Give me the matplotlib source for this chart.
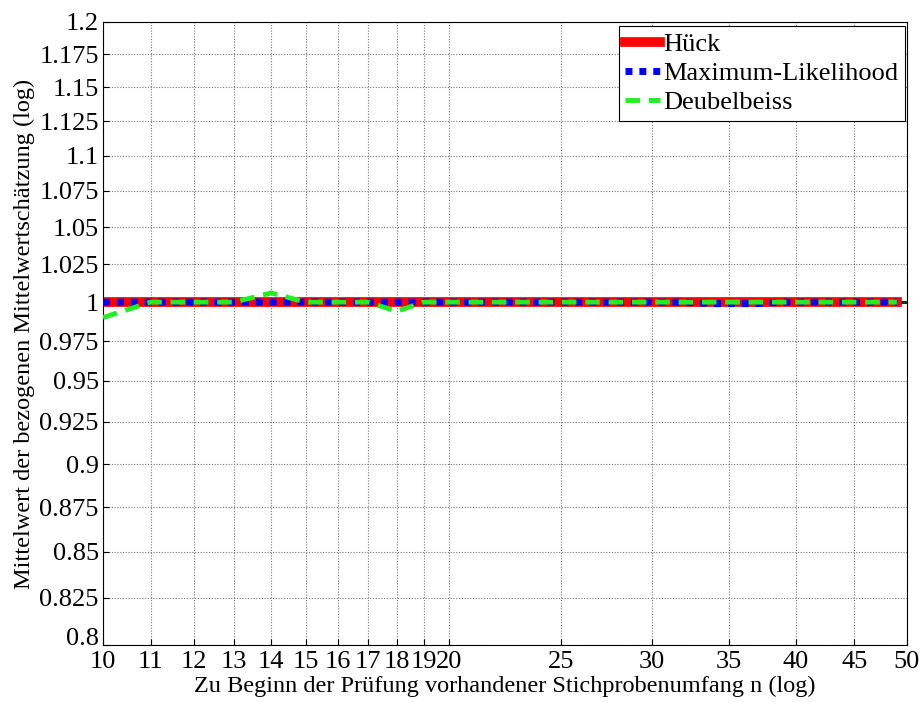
import matplotlib
matplotlib.use('Agg')
import matplotlib.pyplot as plt
from matplotlib.ticker import FixedLocator, FixedFormatter, NullLocator
from matplotlib.transforms import ScaledTranslation

plt.rcParams['font.family'] = 'serif'
plt.rcParams['font.serif'] = ['Liberation Serif', 'Times New Roman', 'DejaVu Serif']

n = list(range(10, 50))
hueck = [1.0] * len(n)
ml = [1.0] * 23 + [0.9995, 0.999, 0.999, 0.999, 0.999, 0.9995] + [1.0] * 11
deubel = [0.990, 1.0, 1.0, 1.0, 1.006, 1.0, 1.0, 1.0, 0.994] + [1.0] * 31

xticks = [10, 11, 12, 13, 14, 15, 16, 17, 18, 19, 20, 25, 30, 35, 40, 45, 50]
yticks = [0.8, 0.825, 0.85, 0.875, 0.9, 0.925, 0.95, 0.975, 1, 1.025, 1.05,
          1.075, 1.1, 1.125, 1.15, 1.175, 1.2]
ylabels = ['0.8', '0.825', '0.85', '0.875', '0.9', '0.925', '0.95', '0.975', '1',
           '1.025', '1.05', '1.075', '1.1', '1.125', '1.15', '1.175', '1.2']

fig = plt.figure(figsize=(9.22, 7.02), dpi=100)
ax = fig.add_axes([0.1117, 0.0812, 0.872, 0.8875])

ax.plot([10, 50], [1, 1], color='black', linewidth=2, zorder=1)
ax.plot(n, hueck, color='red', linewidth=7, label='Hück', zorder=2)
ax.plot(n, ml, color='blue', linewidth=5, linestyle=(0, (1, 1)),
        label='Maximum-Likelihood', zorder=3)
ax.plot(n, deubel, color='#22ee22', linewidth=3.5, linestyle=(0, (3, 1.8)),
        label='Deubelbeiss', zorder=4)

ax.set_xscale('log')
ax.set_yscale('log')
ax.set_xlim(10, 50)
ax.set_ylim(0.8, 1.2)
ax.xaxis.set_major_locator(FixedLocator(xticks))
ax.xaxis.set_major_formatter(FixedFormatter([str(t) for t in xticks]))
ax.xaxis.set_minor_locator(NullLocator())
ax.yaxis.set_major_locator(FixedLocator(yticks))
ax.yaxis.set_major_formatter(FixedFormatter(ylabels))
ax.yaxis.set_minor_locator(NullLocator())
ax.tick_params(direction='in', labelsize=19, length=4)
ax.tick_params(axis='x', pad=4)
ax.tick_params(axis='y', pad=3)
ax.grid(True, color='#777777', linestyle=(0, (1, 1.5)), linewidth=0.8)

# lift the bottom y label a little, as in the original
lbl = ax.yaxis.get_major_ticks()[0].label1
lbl.set_transform(lbl.get_transform() + ScaledTranslation(0, 6 / 72, fig.dpi_scale_trans))

ax.set_xlabel('Zu Beginn der Prüfung vorhandener Stichprobenumfang n (log)',
              fontsize=17.5, labelpad=2)
ax.set_ylabel('Mittelwert der bezogenen Mittelwertschätzung (log)', fontsize=17.5,
              labelpad=3)

leg = ax.legend(loc='upper right', bbox_to_anchor=(0.998, 0.993), fontsize=19,
                fancybox=False, framealpha=1, edgecolor='black',
                handlelength=1.3, handletextpad=0.15, borderaxespad=0.0,
                labelspacing=0.2, borderpad=0.25)
leg.get_frame().set_linewidth(0.8)

fig.savefig('out.png', dpi=100)
